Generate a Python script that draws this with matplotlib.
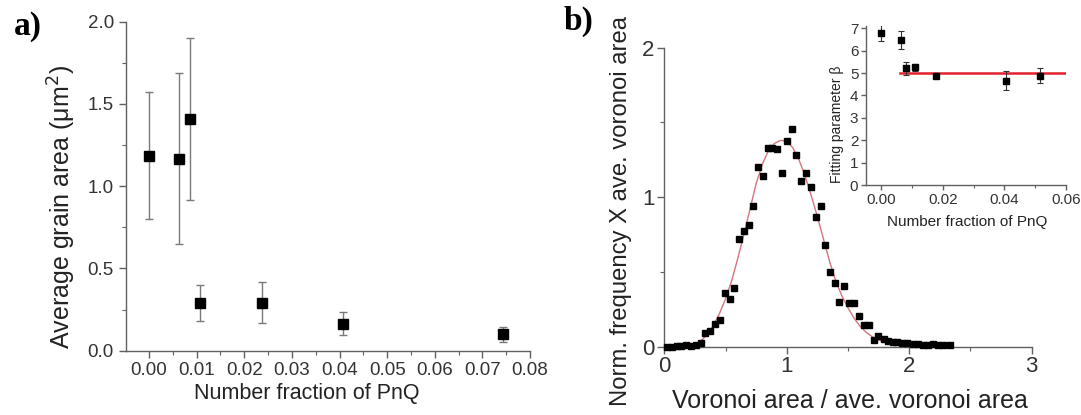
import matplotlib
matplotlib.use("Agg")
import matplotlib.pyplot as plt
from matplotlib.ticker import MultipleLocator, FormatStrFormatter

plt.rcParams['font.family'] = ['Liberation Sans', 'DejaVu Sans']

# ---- panel a data ----
a_x = [0.0000, 0.0063, 0.0085, 0.0107, 0.0237, 0.0407, 0.0744]
a_y = [1.185, 1.165, 1.408, 0.288, 0.288, 0.162, 0.099]
a_lo = [0.800, 0.646, 0.916, 0.180, 0.166, 0.096, 0.055]
a_hi = [1.574, 1.685, 1.902, 0.400, 0.420, 0.237, 0.146]

# ---- panel b data ----
b_x = [0.02, 0.06, 0.10, 0.14, 0.18, 0.22, 0.26,
       0.298, 0.335, 0.376, 0.414, 0.452, 0.492, 0.533, 0.571, 0.608, 0.649,
       0.689, 0.727, 0.766, 0.806, 0.847, 0.882, 0.922, 0.963, 1.001, 1.041,
       1.079, 1.119, 1.155, 1.195, 1.236, 1.277, 1.311, 1.352, 1.390, 1.427,
       1.468, 1.506, 1.547, 1.587, 1.628, 1.668, 1.709, 1.749, 1.790, 1.830,
       1.865, 1.898, 1.938, 1.979, 2.028, 2.074, 2.114, 2.155, 2.196, 2.237,
       2.277, 2.331]
b_y = [0.000, 0.000, 0.002, 0.004, 0.010, 0.006, 0.008,
       0.027, 0.089, 0.107, 0.152, 0.178, 0.361, 0.316, 0.390, 0.717, 0.773,
       0.815, 0.940, 1.202, 1.140, 1.329, 1.329, 1.321, 1.165, 1.376, 1.459,
       1.285, 1.105, 1.165, 1.069, 0.866, 0.940, 0.679, 0.497, 0.423, 0.297,
       0.407, 0.290, 0.290, 0.205, 0.145, 0.145, 0.045, 0.071, 0.049, 0.040,
       0.033, 0.033, 0.027, 0.027, 0.018, 0.015, 0.012, 0.010, 0.018, 0.010,
       0.010, 0.008]

fit_x = [0.0, 0.20, 0.25, 0.30, 0.35, 0.40, 0.45, 0.50, 0.55, 0.60, 0.65, 0.70,
         0.75, 0.80, 0.85, 0.90, 0.95, 1.00, 1.05, 1.10, 1.15, 1.20, 1.25,
         1.30, 1.35, 1.40, 1.45, 1.50, 1.55, 1.60, 1.65, 1.70, 1.75, 1.80,
         1.90, 2.00, 2.20, 2.35]
fit_y = [0.0, 0.002, 0.01, 0.04, 0.08, 0.14, 0.22, 0.32, 0.44, 0.59, 0.75, 0.92,
         1.09, 1.22, 1.31, 1.36, 1.38, 1.375, 1.33, 1.25, 1.14, 1.01, 0.87,
         0.72, 0.57, 0.44, 0.34, 0.26, 0.19, 0.135, 0.095, 0.065, 0.045, 0.03,
         0.015, 0.007, 0.002, 0.0]

# ---- inset data ----
i_x = [0.0000, 0.0064, 0.0080, 0.0108, 0.0177, 0.0406, 0.0515]
i_y = [6.80, 6.47, 5.21, 5.25, 4.87, 4.66, 4.88]
i_err = [0.37, 0.40, 0.28, 0.15, 0.10, 0.41, 0.33]
fit_beta = 4.99
fit_range = [0.006, 0.060]

spine_col = '#606060'
text_col = '#222222'

fig = plt.figure(figsize=(10.81, 4.15), dpi=100)

def style(ax, size):
    for s in ['top', 'right']:
        ax.spines[s].set_visible(False)
    for s in ['left', 'bottom']:
        ax.spines[s].set_color(spine_col)
        ax.spines[s].set_linewidth(1.0)
    ax.tick_params(which='major', direction='out', length=5, width=1.0,
                   color=spine_col, labelsize=size, labelcolor='#333333')
    ax.tick_params(which='minor', direction='out', length=3, width=0.8,
                   color=spine_col)

# panel a
axa = fig.add_axes([0.1163, 0.155, 0.374, 0.7928])
yerr_a = [[y - l for y, l in zip(a_y, a_lo)], [h - y for y, h in zip(a_y, a_hi)]]
axa.errorbar(a_x, a_y, yerr=yerr_a, fmt='s', color='black', ms=7.5,
             ecolor='#7a7a7a', elinewidth=1.0, capsize=3, capthick=1.0)
axa.set_xlim(-0.0049, 0.08)
axa.set_ylim(0, 2.0)
axa.xaxis.set_major_locator(MultipleLocator(0.01))
axa.xaxis.set_minor_locator(MultipleLocator(0.005))
axa.yaxis.set_major_locator(MultipleLocator(0.5))
axa.yaxis.set_minor_locator(MultipleLocator(0.25))
axa.xaxis.set_major_formatter(FormatStrFormatter('%.2f'))
axa.yaxis.set_major_formatter(FormatStrFormatter('%.1f'))
style(axa, 13.5)
axa.patch.set_alpha(0)

# panel b
axb = fig.add_axes([0.6145, 0.1646, 0.3399, 0.7205])
axb.plot(fit_x, fit_y, '-', color='#d7747c', lw=1.0, zorder=2)
axb.plot(b_x, b_y, 's', color='black', ms=4.6, zorder=3, clip_on=False)
axb.set_xlim(0, 3)
axb.set_ylim(0, 2)
axb.xaxis.set_major_locator(MultipleLocator(1))
axb.xaxis.set_minor_locator(MultipleLocator(0.5))
axb.yaxis.set_major_locator(MultipleLocator(1))
axb.yaxis.set_minor_locator(MultipleLocator(0.5))
style(axb, 16)
axb.tick_params(which='major', pad=2)
axb.patch.set_alpha(0)

# inset
axi = fig.add_axes([0.8011, 0.5542, 0.185, 0.3831])
axi.plot(fit_range, [fit_beta, fit_beta], '-', color='#e3202c', lw=1.8, zorder=2)
axi.errorbar(i_x, i_y, yerr=i_err, fmt='s', color='black', ms=4.3,
             ecolor='#333333', elinewidth=0.8, capsize=2, capthick=0.8, zorder=3)
axi.set_xlim(-0.005, 0.06)
axi.set_ylim(0, 7.1)
axi.xaxis.set_major_locator(MultipleLocator(0.02))
axi.xaxis.set_minor_locator(MultipleLocator(0.01))
axi.yaxis.set_major_locator(MultipleLocator(1))
axi.xaxis.set_major_formatter(FormatStrFormatter('%.2f'))
style(axi, 11)
axi.tick_params(which='major', length=3.5, pad=2)
axi.tick_params(which='minor', length=2)
axi.patch.set_alpha(0)

narrow = ['Liberation Sans Narrow', 'Liberation Sans', 'DejaVu Sans']

# labels
fig.text(0.2836, 0.053, 'Number fraction of PnQ', ha='center', va='center',
         fontsize=15.5, color=text_col)
fig.text(0.0574, 0.5024, 'Average grain area (\u03bcm$^2$)', ha='center', va='center',
         rotation=90, fontsize=18, color=text_col)
fig.text(0.786, 0.034, 'Voronoi area / ave. voronoi area', ha='center', va='center',
         fontsize=18, color=text_col)
fig.text(0.5745, 0.4916, 'Norm. frequency X ave. voronoi area', ha='center', va='center',
         rotation=90, fontsize=17.2, color=text_col)
fig.text(0.8949, 0.4658, 'Number fraction of PnQ', ha='center', va='center',
         fontsize=11, family=narrow, color=text_col)
fig.text(0.7743, 0.7012, 'Fitting parameter \u03b2', ha='center', va='center',
         rotation=90, fontsize=10, family=narrow, color=text_col)

fig.text(0.0255, 0.9357, 'a)', ha='center', va='center', fontsize=24,
         fontweight='bold', family=['Liberation Serif', 'DejaVu Serif'])
fig.text(0.5347, 0.9478, 'b)', ha='center', va='center', fontsize=24,
         fontweight='bold', family=['Liberation Serif', 'DejaVu Serif'])

fig.savefig('out.png', dpi=100)
